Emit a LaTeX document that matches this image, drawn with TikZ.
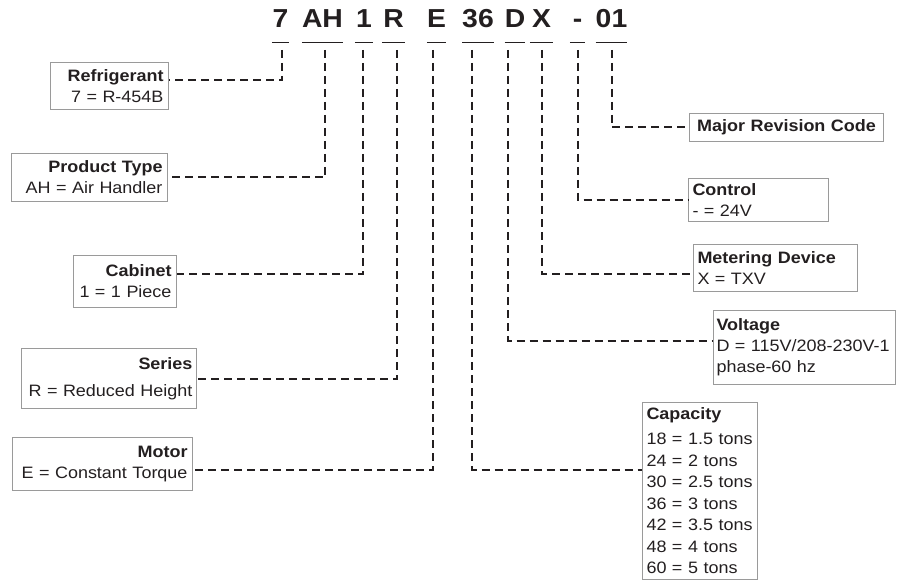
\documentclass[tikz,border=0pt]{standalone}
\usepackage{fontspec}
\setmainfont[FakeStretch=1.09]{Liberation Sans}
\usepackage{tikz}
\usetikzlibrary{calc}
\definecolor{ink}{HTML}{231F20}
\definecolor{frame}{HTML}{9A9A9A}

\begin{document}
\begin{tikzpicture}[
    x=1pt, y=-1pt,
    code/.style={anchor=base, inner xsep=0pt, text=ink, font=\bfseries\fontsize{26}{30}\selectfont},
    box/.style={rectangle, draw=frame, line width=1pt, anchor=north west, inner xsep=5pt, inner ysep=0pt, text=ink, font=\fontsize{16.5}{21}\selectfont},
    lbox/.style={box, align=right},
    rbox/.style={box, align=left},
    uline/.style={ink, line width=1pt},
    link/.style={ink, line width=2pt, dash pattern=on 8pt off 5pt}
]
    \useasboundingbox (0,0) rectangle (899,580);

    % Model number
    \node[code, minimum width=17] (c7) at (280.5,28) {7};
    \node[code, minimum width=41] (cAH) at (322.5,28) {AH};
    \node[code, minimum width=18] (c1) at (364,28) {1};
    \node[code, minimum width=23] (cR) at (393.5,28) {R};
    \node[code, minimum width=13] (cE) at (436.5,28) {E};
    \node[code, minimum width=30] (c36) at (478,28) {36};
    \node[code, minimum width=14] (cD) at (515,28) {D};
    \node[code, minimum width=23] (cX) at (541.5,28) {X};
    \node[code, minimum width=15] (cdash) at (577.5,28) {-};
    \node[code, minimum width=23] (c01) at (611.5,28) {01};

    % Underlines
    \foreach \c in {c7,cAH,c1,cR,cE,c36,cD,cX,cdash,c01}
        \draw[uline] ([yshift=-15pt]\c.base west) -- ([yshift=-15pt]\c.base east);

    % Left boxes
    \node[lbox, text width=108, minimum height=47] (refr) at (50,62) {\textbf{Refrigerant}\\7 = R-454B};
    \node[lbox, text width=146, minimum height=48] (ptype) at (11,153) {\textbf{Product Type}\\AH = Air Handler};
    \node[lbox, text width=93, minimum height=52] (cab) at (73,255) {\textbf{Cabinet}\\1 = 1 Piece};
    \node[lbox, text width=167, inner xsep=4pt, minimum height=60] (ser) at (21,348) {\textbf{Series}\\[6pt]R = Reduced Height};
    \node[lbox, text width=170, minimum height=53] (mot) at (12,437) {\textbf{Motor}\\E = Constant Torque};

    % Right boxes
    \node[box, align=center, inner xsep=4pt, text width=186, minimum height=28] (rev) at (689,113) {\textbf{Major Revision Code}};
    \node[rbox, inner xsep=4pt, text width=132, minimum height=43] (ctrl) at (688,178) {\textbf{Control}\\- = 24V};
    \node[rbox, inner xsep=4pt, text width=156, minimum height=47] (meter) at (693,244) {\textbf{Metering Device}\\X = TXV};
    \node[rbox, inner xsep=3pt, text width=176, minimum height=74] (volt) at (713,310) {\textbf{Voltage}\\D = 115V/208-230V-1\\phase-60 hz};
    \node[rbox, inner xsep=4pt, text width=107, minimum height=177, font=\fontsize{16.5}{21.5}\selectfont] (cap) at (642,402)
        {\textbf{Capacity}\\[3.5pt]18 = 1.5 tons\\24 = 2 tons\\30 = 2.5 tons\\36 = 3 tons\\42 = 3.5 tons\\48 = 4 tons\\60 = 5 tons};

    % Leaders
    \draw[link] ([xshift=1.5pt,yshift=-22pt]c7.base) |- ([yshift=5.5pt]refr.east);
    \draw[link] ([xshift=2.5pt,yshift=-22pt]cAH.base) |- (ptype.east);
    \draw[link] ([xshift=-1pt,yshift=-22pt]c1.base) |- ([yshift=8pt]cab.east);
    \draw[link] ([xshift=3.5pt,yshift=-22pt]cR.base) |- (ser.east);
    \draw[link] ([xshift=-3.5pt,yshift=-22pt]cE.base) |- ([yshift=-5.5pt]mot.east);
    \draw[link] ([xshift=-6pt,yshift=-22pt]c36.base) |- ([yshift=21.5pt]cap.west);
    \draw[link] ([xshift=-7pt,yshift=-22pt]cD.base) |- ([yshift=7pt]volt.west);
    \draw[link] ([yshift=-22pt]cX.base) |- ([yshift=-5.5pt]meter.west);
    \draw[link] ([yshift=-22pt]cdash.base) |- (ctrl.west);
    \draw[link] ([yshift=-22pt]c01.base) |- (rev.west);
\end{tikzpicture}
\end{document}
